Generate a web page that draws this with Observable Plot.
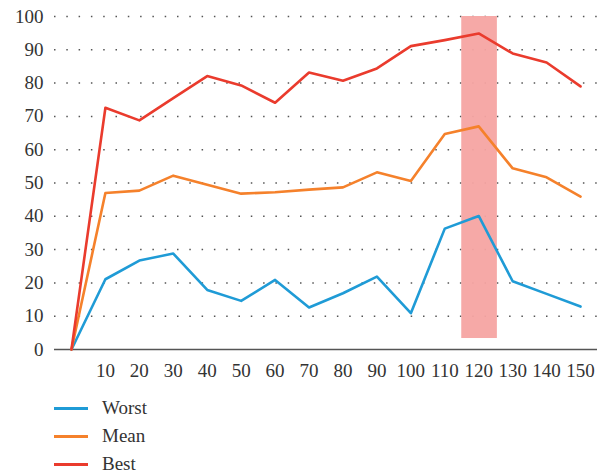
<!DOCTYPE html>
<html><head><meta charset="utf-8">
<script src="https://cdn.jsdelivr.net/npm/d3@7"></script>
<script src="https://cdn.jsdelivr.net/npm/@observablehq/plot@0.6"></script>
<style>
body{margin:0;background:#fff;font-family:'Liberation Serif','DejaVu Serif',serif;}
svg, svg text{font-family:'Liberation Serif','DejaVu Serif',serif !important;}
#legend{position:relative;margin-left:54px;}
.row{display:flex;align-items:center;height:28px;font-size:19px;color:#333;}
.sw{width:34px;height:3px;margin-right:14px;}
</style></head><body>
<div id="chart"></div>
<div id="legend"></div>
<script>
const iterations = [0,10,20,30,40,50,60,70,80,90,100,110,120,130,140,150];
const worst = [0,21.1,26.7,28.8,17.9,14.6,20.9,12.6,16.9,21.9,10.9,36.3,40.1,20.5,16.7,12.9];
const mean  = [0,47,47.7,52.2,49.5,46.8,47.2,48,48.7,53.2,50.6,64.7,67,54.4,51.7,45.9];
const best  = [0,72.6,68.8,75.5,82.1,79.3,74.1,83.2,80.7,84.4,91.1,92.9,94.9,88.9,86.2,79];
const seriesNames = ["Worst","Mean","Best"];
const seriesColors = ["#1f9bd6","#f5812b","#ea3b2d"];
const highlight = [{x1:115, x2:125.5, y1:3.3, y2:100}];
const xTicks = [10,20,30,40,50,60,70,80,90,100,110,120,130,140,150];
const yTicks = [0,10,20,30,40,50,60,70,80,90,100];

const data = [];
[worst,mean,best].forEach((arr,i)=>arr.forEach((v,j)=>data.push({x:iterations[j],y:v,s:seriesNames[i]})));

const chart = Plot.plot({
  width:607, height:390,
  marginLeft:54, marginRight:10, marginTop:16, marginBottom:41,
  style:{fontFamily:"'Liberation Serif', serif", fontSize:"19px", color:"#333", background:"#fff"},
  x:{domain:[-5,155], ticks:xTicks, tickSize:0, tickPadding:14, label:null},
  y:{domain:[0,100], ticks:yTicks, tickSize:0, tickPadding:11, label:null},
  color:{domain:seriesNames, range:seriesColors},
  marks:[
    Plot.gridY(yTicks.filter(d=>d>0), {stroke:"#555", strokeOpacity:1, strokeWidth:1.5, strokeDasharray:"1.5,10.8"}),
    Plot.ruleY([0], {stroke:"#555", strokeWidth:1.5}),
    Plot.rect(highlight, {x1:"x1", x2:"x2", y1:"y1", y2:"y2", fill:"#f6a4a2", fillOpacity:0.95}),
    Plot.line(data, {x:"x", y:"y", z:"s", stroke:"s", strokeWidth:2.6, curve:"linear"}),
    Plot.axisX({ticks:xTicks, tickSize:0, tickPadding:14, label:null}),
    Plot.axisY({ticks:yTicks, tickSize:0, tickPadding:11, label:null})
  ]
});
document.getElementById("chart").appendChild(chart);
const lg = document.getElementById("legend");
lg.style.paddingTop = "4px";
seriesNames.forEach((n,i)=>{
  const r=document.createElement("div"); r.className="row";
  const s=document.createElement("div"); s.className="sw"; s.style.background=seriesColors[i];
  const t=document.createElement("span"); t.textContent=n;
  r.appendChild(s); r.appendChild(t); lg.appendChild(r);
});
</script>
</body></html>
